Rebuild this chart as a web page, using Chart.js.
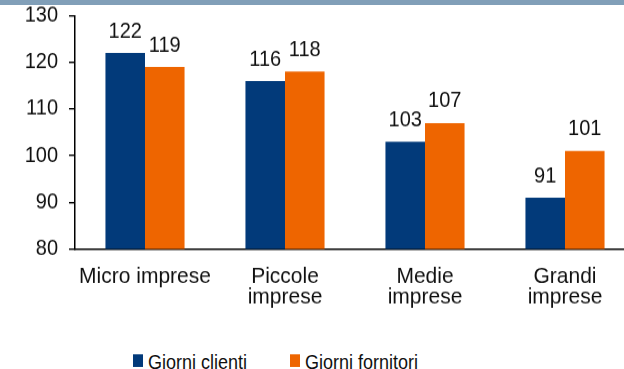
<!DOCTYPE html>
<html>
<head>
<meta charset="utf-8">
<script src="https://cdn.jsdelivr.net/npm/chart.js@4/dist/chart.umd.min.js"></script>
<style>
  html, body { margin: 0; padding: 0; background: #fff; }
  body { width: 624px; height: 369px; overflow: hidden; position: relative; font-family: Arial, "Liberation Sans", sans-serif; }
  #band { position: absolute; left: 0; top: 0; width: 624px; height: 5px; background: #819fb8; }
  /* the original text is slightly taller than wide, so stretch vertically */
  #wrap { position: absolute; left: 0; top: 0; width: 640px; height: 306px; transform: scaleY(1.08); transform-origin: 0 0; }
  .leg { position: absolute; top: 352px; font-size: 18px; line-height: 19px; color: #111; white-space: nowrap; transform: scaleY(1.15); transform-origin: 0 0; }
  .leg span.sw { display: inline-block; width: 10px; height: 11.3px; margin-right: 5px; vertical-align: 2px; }
</style>
</head>
<body>
<div id="band"></div>
<div id="wrap"><canvas id="chart" width="640" height="306"></canvas></div>
<div class="leg" style="left:133px"><span class="sw" style="background:#023a7a"></span>Giorni clienti</div>
<div class="leg" style="left:290px"><span class="sw" style="background:#ee6500"></span>Giorni fornitori</div>
<script>
// categorie e valori
var categories = [['Micro imprese'], ['Piccole', 'imprese'], ['Medie', 'imprese'], ['Grandi', 'imprese']];
var giorniClienti = [122, 116, 103, 91];
var giorniFornitori = [119, 118, 107, 101];
var yTicks = [80, 90, 100, 110, 120, 130];

var blue = '#023a7a';
var orange = '#ee6500';
var fontFamily = 'Arial, "Liberation Sans", sans-serif';

// etichette dei valori sopra le barre
var valueLabels = {
  id: 'valueLabels',
  afterDatasetsDraw: function(chart) {
    var ctx = chart.ctx;
    ctx.save();
    ctx.font = '20px ' + fontFamily;
    ctx.fillStyle = '#111';
    ctx.textAlign = 'center';
    ctx.textBaseline = 'alphabetic';
    chart.data.datasets.forEach(function(ds, i) {
      var meta = chart.getDatasetMeta(i);
      meta.data.forEach(function(bar, j) {
        ctx.fillText(ds.data[j], bar.x, bar.y - 14.5);
      });
    });
    ctx.restore();
  }
};

new Chart(document.getElementById('chart').getContext('2d'), {
  type: 'bar',
  data: {
    labels: categories,
    datasets: [{
      label: 'Giorni clienti',
      data: giorniClienti,
      backgroundColor: blue,
      categoryPercentage: 0.565,
      barPercentage: 1
    }, {
      label: 'Giorni fornitori',
      data: giorniFornitori,
      backgroundColor: orange,
      categoryPercentage: 0.565,
      barPercentage: 1
    }]
  },
  options: {
    responsive: false,
    animation: false,
    layout: { padding: { top: 14.5, right: 5, bottom: 11.4, left: 0 } },
    plugins: {
      legend: { display: false },
      tooltip: { enabled: false }
    },
    scales: {
      x: {
        grid: { display: false, drawTicks: false },
        border: { display: true, color: '#000', width: 1.5 },
        ticks: {
          color: '#111',
          padding: 15.7,
          maxRotation: 0,
          autoSkip: false,
          font: { family: fontFamily, size: 21, lineHeight: 0.925 }
        },
        afterFit: function(scale) {
          scale.height = 64;
          scale.paddingLeft = 0;
          scale.paddingRight = 0;
        }
      },
      y: {
        min: 80,
        max: 130,
        afterBuildTicks: function(scale) {
          scale.ticks = yTicks.map(function(v) { return { value: v }; });
        },
        grid: { drawOnChartArea: false, color: '#000', tickLength: 6, lineWidth: 1.4 },
        border: { display: true, color: '#000', width: 1.5 },
        ticks: {
          color: '#111',
          padding: 11,
          font: { family: fontFamily, size: 20 }
        },
        afterFit: function(scale) {
          scale.width = 75;
          scale.paddingTop = 0;
          scale.paddingBottom = 0;
        }
      }
    }
  },
  plugins: [valueLabels]
});
</script>
</body>
</html>
